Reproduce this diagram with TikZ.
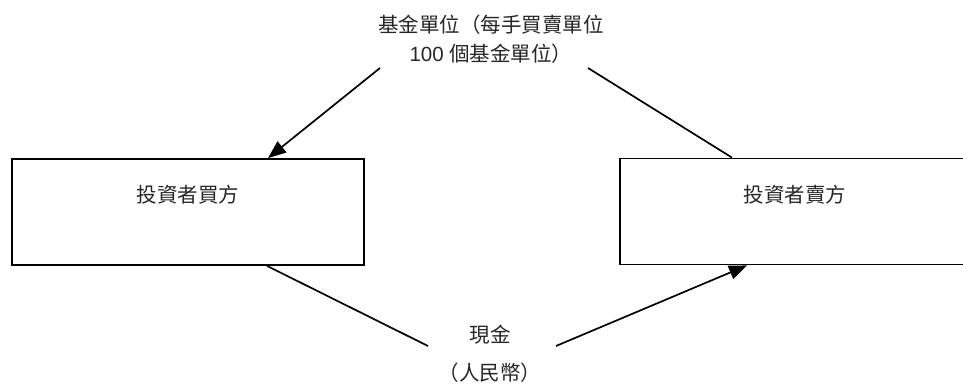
\documentclass[tikz,border=0pt]{standalone}
\usepackage{fontspec}
\setmainfont{Liberation Sans}
\newfontfamily\cjk{Noto Sans CJK TC}
\usetikzlibrary{arrows.meta,calc}
\begin{document}
\begin{tikzpicture}[x=1pt,y=-1pt,
  box/.style={draw, line width=1.8pt, minimum width=352pt, minimum height=106pt, inner sep=0pt},
  lbl/.style={font=\fontsize{20.5}{29}\selectfont\cjk, text=black!85, align=center, inner sep=0pt},
  conn/.style={line width=1.7pt},
  arr/.style={conn, -{Triangle[length=18pt,width=14pt]}}]
\useasboundingbox (0,0) rectangle (963,383);
\fill[white] (0,0) rectangle (963,383);
\begin{scope}
  \clip (0,0) rectangle (963,383);
  \node[box] (lbox) at (188,212) {};
  \node[box] (rbox) at (796,211.5) {};
\end{scope}
\node[lbl] (ltxt) at (188,195) {投資者買方};
\node[lbl] (rtxt) at (795,195) {投資者賣方};
\node[lbl] (top) at (491,39.5) {基金單位（每手買賣單位\\{\rmfamily 100 }個基金單位）};
\node[lbl, font=\fontsize{20.5}{38}\selectfont\cjk] (cash) at (490,354) {現金\\（人民幣）};
\coordinate (t1) at (380,68);
\coordinate (t2) at (588,68);
\coordinate (c1) at (428,346);
\coordinate (c2) at (556,346);
\draw[arr] (t1) -- ([xshift=80pt]lbox.north);
\draw[conn] (t2) -- ([xshift=-64pt]rbox.north);
\draw[conn] ([xshift=79pt]lbox.south) -- (c1);
\draw[arr] (c2) -- ([xshift=-49pt]rbox.south);
\end{tikzpicture}
\end{document}
